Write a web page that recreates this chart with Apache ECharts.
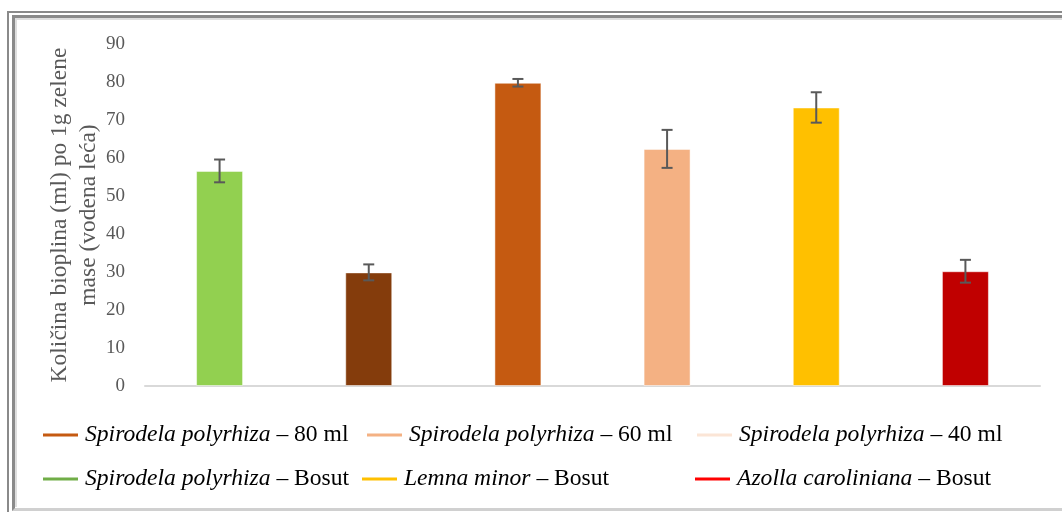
<!DOCTYPE html>
<html>
<head>
<meta charset="utf-8">
<script src="https://cdn.jsdelivr.net/npm/echarts@6/dist/echarts.min.js"></script>
<style>
  html, body { margin: 0; padding: 0; background: #fff; }
  #wrap { position: relative; width: 1062px; height: 512px; overflow: hidden; }
  #f1 { position: absolute; left: 7px; top: 11px; width: 1200px; height: 600px;
        border-left: 2px solid #8a8a8a; border-top: 2px solid #8a8a8a; }
  #f2 { position: absolute; left: 12px; top: 15px; width: 1200px; height: 490px;
        border-left: 3px solid #8a8a8a; border-top: 3px solid #8a8a8a; border-bottom: 3px solid #d0d0d0; }
  #f3 { position: absolute; left: 15px; top: 18px; width: 1200px; height: 487px;
        border-left: 2px solid #dedede; border-top: 2px solid #dedede; }
  #chart { position: absolute; left: 0; top: 0; width: 1062px; height: 512px; }
</style>
</head>
<body>
<div id="wrap">
  <div id="f1"></div>
  <div id="f2"></div>
  <div id="f3"></div>
  <div id="chart"></div>
</div>
<script>
// ---- data ----
const categories = [
  'Spirodela polyrhiza – Bosut',
  'Spirodela polyrhiza – 40 ml',
  'Spirodela polyrhiza – 80 ml',
  'Spirodela polyrhiza – 60 ml',
  'Lemna minor – Bosut',
  'Azolla caroliniana – Bosut'
];
const values = [56.6, 29.9, 79.8, 62.4, 73.3, 30.2];
const errors = [3.0, 2.1, 1.0, 5.0, 4.0, 3.0];
const barColors = ['#92D050', '#843C0C', '#C55A11', '#F4B183', '#FFC000', '#C00000'];
const legendNames = [
  'Spirodela polyrhiza – 80 ml',
  'Spirodela polyrhiza – 60 ml',
  'Spirodela polyrhiza – 40 ml',
  'Spirodela polyrhiza – Bosut',
  'Lemna minor – Bosut',
  'Azolla caroliniana – Bosut'
];
const legendColors = ['#C55A11', '#F4B183', '#FBE5D6', '#70AD47', '#FFC000', '#FF0000'];
const yTicks = { min: 0, max: 90, interval: 10 };
const yAxisName = 'Količina bioplina (ml) po 1g zelene\nmase (vodena leća)';

// ---- layout ----
const legendPos = [
  [43, 423], [367, 423], [697, 423],
  [43, 467], [362, 467], [695, 467]
];
const serif = '"Liberation Serif", "DejaVu Serif", serif';

const chart = echarts.init(document.getElementById('chart'));

const barSeries = {
  type: 'bar',
  name: 'bars',
  barWidth: 47,
  data: values.map((v, i) => ({ value: v, itemStyle: { color: barColors[i] } })),
  itemStyle: { borderColor: 'rgba(255,255,255,0.5)', borderWidth: 1 },
  z: 2
};

const errSeries = {
  type: 'custom',
  name: 'err',
  data: values.map((v, i) => [i, v - errors[i], v + errors[i]]),
  renderItem: function (params, api) {
    const i = api.value(0);
    const lo = api.coord([i, api.value(1)]);
    const hi = api.coord([i, api.value(2)]);
    const hw = 5.5;
    const style = { stroke: '#595959', lineWidth: 2 };
    return {
      type: 'group',
      children: [
        { type: 'line', shape: { x1: lo[0], y1: lo[1], x2: hi[0], y2: hi[1] }, style: style },
        { type: 'line', shape: { x1: lo[0] - hw, y1: lo[1], x2: lo[0] + hw, y2: lo[1] }, style: style },
        { type: 'line', shape: { x1: hi[0] - hw, y1: hi[1], x2: hi[0] + hw, y2: hi[1] }, style: style }
      ]
    };
  },
  z: 3
};

const legendSeries = legendNames.map((n, i) => ({
  type: 'line',
  name: n,
  data: [],
  color: legendColors[i],
  lineStyle: { color: legendColors[i], width: 3 }
}));

function legendFmt(name) {
  const parts = name.split(' – ');
  return '{i|' + parts[0] + '}{r| – ' + parts[1] + '}';
}

const legends = legendNames.map((n, i) => ({
  data: [{ name: n, icon: 'rect', itemStyle: { color: legendColors[i] } }],
  left: legendPos[i][0],
  top: legendPos[i][1],
  itemWidth: 35,
  itemHeight: 3,
  itemGap: 0,
  padding: 0,
  selectedMode: false,
  formatter: legendFmt,
  textStyle: {
    fontFamily: serif,
    fontSize: 23.6,
    color: '#000',
    padding: [0, 0, 0, 2],
    rich: {
      i: { fontFamily: serif, fontSize: 23.6, fontStyle: 'italic', color: '#000' },
      r: { fontFamily: serif, fontSize: 23.6, color: '#000' }
    }
  }
}));

chart.setOption({
  animation: false,
  backgroundColor: 'transparent',
  grid: { left: 145, right: 22, top: 44, bottom: 126, containLabel: false },
  legend: legends,
  xAxis: {
    type: 'category',
    data: categories,
    axisLine: { show: true, lineStyle: { color: '#d9d9d9', width: 2 } },
    axisTick: { show: false },
    axisLabel: { show: false },
    splitLine: { show: false }
  },
  yAxis: {
    type: 'value',
    min: yTicks.min,
    max: yTicks.max,
    interval: yTicks.interval,
    name: yAxisName,
    nameLocation: 'middle',
    nameRotate: 90,
    nameGap: 42,
    nameMoveOverlap: false,
    nameTextStyle: { fontFamily: serif, fontSize: 23.5, color: '#595959', lineHeight: 29 },
    axisLine: { show: false },
    axisTick: { show: false },
    splitLine: { show: false },
    axisLabel: { fontFamily: serif, fontSize: 19, color: '#595959', margin: 20 }
  },
  series: [barSeries, errSeries].concat(legendSeries)
});
</script>
</body>
</html>
